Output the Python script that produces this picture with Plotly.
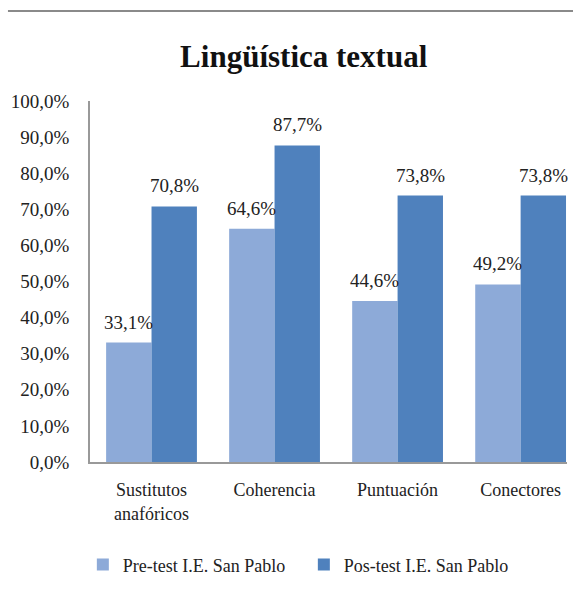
import plotly.graph_objects as go

categories = ["Sustitutos<br>anafóricos", "Coherencia", "Puntuación", "Conectores"]
pre_values = [33.1, 64.6, 44.6, 49.2]
post_values = [70.8, 87.7, 73.8, 73.8]
series_names = ["Pre-test I.E. San Pablo", "Pos-test I.E. San Pablo"]
tick_vals = [0, 10, 20, 30, 40, 50, 60, 70, 80, 90, 100]
tick_text = ["0,0%", "10,0%", "20,0%", "30,0%", "40,0%", "50,0%", "60,0%", "70,0%", "80,0%", "90,0%", "100,0%"]

def fmt(v):
    return f"{v:.1f}".replace(".", ",") + "%"

SERIF = "Liberation Serif, Times New Roman, serif"
colors = ["#8DAAD8", "#4F81BD"]

fig = go.Figure()
for name, vals, col in zip(series_names, [pre_values, post_values], colors):
    fig.add_trace(go.Bar(
        x=categories, y=vals, name=name, marker=dict(color=col, line=dict(width=0)),
        cliponaxis=False,
    ))

# data labels placed above each bar
for shift, vals in zip([-23, 23], [pre_values, post_values]):
    for cat, v in zip(categories, vals):
        fig.add_annotation(x=cat, y=v, text=fmt(v), showarrow=False, xshift=shift,
                           yanchor="bottom", yshift=8,
                           font=dict(family=SERIF, size=19, color="#222"))

fig.update_layout(
    width=573, height=590,
    margin=dict(l=90, r=6, t=101, b=128),
    paper_bgcolor="white", plot_bgcolor="white",
    barmode="group", bargap=0.262, bargroupgap=0,
    title=dict(text="<b>Lingüística textual</b>", x=0.53, xanchor="center", y=0.905, yanchor="middle",
               font=dict(family=SERIF, size=31, color="#111")),
    font=dict(family=SERIF, color="#222"),
    showlegend=True,
    legend=dict(orientation="h", x=-0.015, xanchor="left", y=-0.285, yanchor="middle",
                font=dict(family=SERIF, size=18, color="#222"), entrywidth=176,
                itemwidth=30, traceorder="normal"),
)
fig.update_xaxes(range=[-0.5, 3.377], showline=True, linecolor="#999", linewidth=1.5,
                 ticks="", tickfont=dict(family=SERIF, size=18, color="#222"),
                 ticklabelstandoff=11, showgrid=False)
fig.update_yaxes(range=[0, 100], tickvals=tick_vals, ticktext=tick_text, showline=True,
                 linecolor="#999", linewidth=1.5, showgrid=False, zeroline=False, ticks="",
                 tickfont=dict(family=SERIF, size=19, color="#222"), ticklabelstandoff=15)

fig.add_shape(type="line", xref="paper", yref="paper", x0=-0.172, x1=1.013, y0=1.249, y1=1.249,
              line=dict(color="#8a8a8a", width=2))

fig.write_html("out.html")
